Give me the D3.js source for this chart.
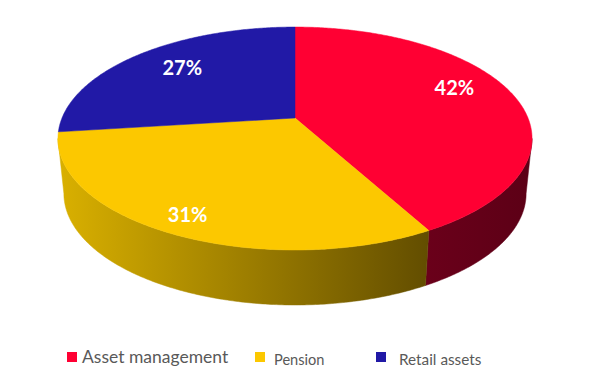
<!DOCTYPE html>
<html>
<head>
<meta charset="utf-8">
<script src="https://cdn.jsdelivr.net/npm/d3@7"></script>
<style>
  html, body { margin: 0; padding: 0; background: #ffffff; }
  svg { display: block; }
</style>
</head>
<body>
<svg id="chart" width="589" height="391"></svg>
<script>
// ---- data ----
const categories = ["Asset management", "Pension", "Retail assets"];
const values = [42, 31, 27];
const labels = ["42%", "31%", "27%"];

// ---- styles / layout ----
const topColors = ["#ff0033", "#fcc800", "#2119a6"];
const legendFontSizes = [17.5, 14.6, 15.3];
const legendTextGap = [15, 19, 23];
const labelRadius = [0.73, 0.87, 0.70];
const labelLift = [11, 0, 4];

const svg = d3.select("#chart");

// perspective projection of a unit-circle point (u right, v toward viewer), h = 0 top face, 1 bottom face
const cx = 295, cy = 118, A = 233, B = 107.7, k = 0.184, depth = 55, shrink = 0.025;
function proj(u, v, h) {
  const s = 1 / (1 - k * v);
  return [cx + A * (1 - shrink * h) * u * s, cy + B * v * s + depth * h];
}
// angle (radians, clockwise from 12 o'clock) to projected point at radius r
function pt(a, r, h) {
  return proj(r * Math.sin(a), -r * Math.cos(a), h);
}

const pie = d3.pie().value(d => d).sort(null);
const arcs = pie(values);

const defs = svg.append("defs");
const gY = defs.append("linearGradient").attr("id", "sideY")
  .attr("gradientUnits", "userSpaceOnUse").attr("x1", 60).attr("x2", 430).attr("y1", 0).attr("y2", 0);
gY.append("stop").attr("offset", "0%").attr("stop-color", "#d9b000");
gY.append("stop").attr("offset", "100%").attr("stop-color", "#624d00");
const gR = defs.append("linearGradient").attr("id", "sideR")
  .attr("gradientUnits", "userSpaceOnUse").attr("x1", 428).attr("x2", 532).attr("y1", 0).attr("y2", 0);
gR.append("stop").attr("offset", "0%").attr("stop-color", "#6a001a");
gR.append("stop").attr("offset", "100%").attr("stop-color", "#5c0016");
const sideFills = ["url(#sideR)", "url(#sideY)", "#14106a"];

const line = d3.line();
function arcPoints(a0, a1, r, h) {
  const n = Math.max(2, Math.ceil(Math.abs(a1 - a0) / 0.01));
  const pts = [];
  for (let i = 0; i <= n; i++) pts.push(pt(a0 + (a1 - a0) * i / n, r, h));
  return pts;
}

// visible front side range
const visStart = Math.acos(-k);
const visEnd = 2 * Math.PI - Math.acos(-k);

const sides = svg.append("g");
arcs.forEach((d, i) => {
  const b0 = Math.max(d.startAngle, visStart), b1 = Math.min(d.endAngle, visEnd);
  if (b1 <= b0) return;
  const pts = arcPoints(b0, b1, 1, 0).concat(arcPoints(b1, b0, 1, 1));
  sides.append("path").attr("d", line(pts) + "Z").attr("fill", sideFills[i])
    .attr("stroke", sideFills[i]).attr("stroke-width", 0.5);
});

const tops = svg.append("g");
arcs.forEach((d, i) => {
  const pts = [proj(0, 0, 0)].concat(arcPoints(d.startAngle, d.endAngle, 1, 0));
  tops.append("path").attr("d", line(pts) + "Z").attr("fill", topColors[i])
    .attr("stroke", topColors[i]).attr("stroke-width", 0.5);
});

// data labels
const lab = svg.append("g");
arcs.forEach((d, i) => {
  const mid = (d.startAngle + d.endAngle) / 2;
  const p = pt(mid, labelRadius[i], 0);
  lab.append("text").attr("x", p[0]).attr("y", p[1] + 7 - labelLift[i])
    .attr("text-anchor", "middle")
    .attr("font-family", "Lato, 'Open Sans', sans-serif").attr("font-weight", "bold")
    .attr("font-size", 20).attr("fill", "#ffffff").text(labels[i]);
});

// legend
const legendX = d3.scaleOrdinal().domain(categories).range([67, 255, 376]);
const leg = svg.append("g");
categories.forEach((c, i) => {
  const x = legendX(c);
  leg.append("rect").attr("x", x).attr("y", 352).attr("width", 10).attr("height", 10).attr("fill", topColors[i]);
  leg.append("text").attr("x", x + legendTextGap[i]).attr("y", i === 0 ? 363 : 365)
    .attr("font-family", "Lato, 'Open Sans', sans-serif").attr("font-size", legendFontSizes[i])
    .attr("fill", "#595959").text(c);
});
</script>
</body>
</html>
